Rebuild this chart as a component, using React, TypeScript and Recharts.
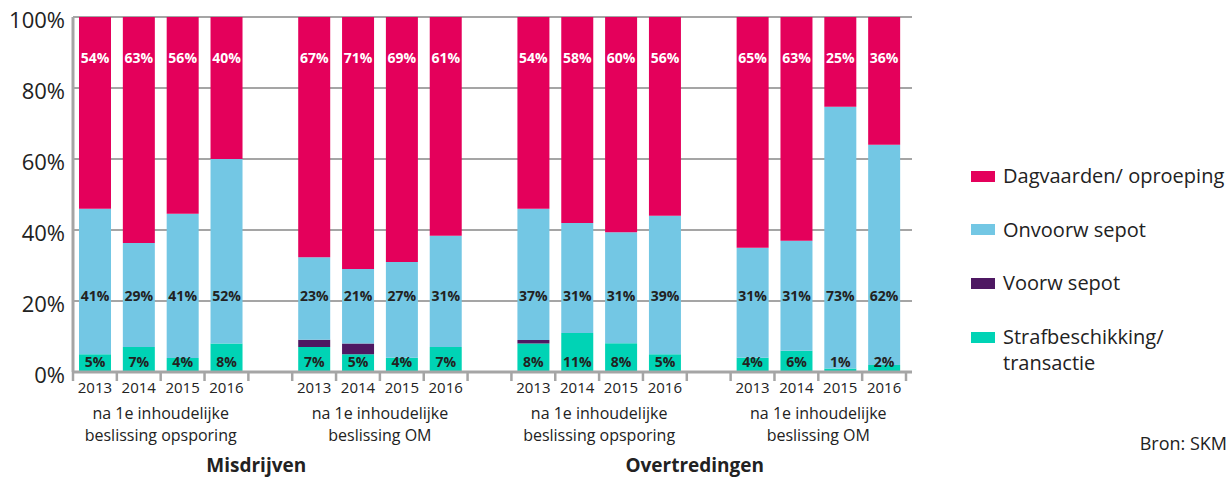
import React from 'react';
import { BarChart, Bar, XAxis, YAxis, CartesianGrid, LabelList } from 'recharts';

// '' = empty slot between groups
const categories = [
  '2013', '2014', '2015', '2016', '',
  '2013', '2014', '2015', '2016', '',
  '2013', '2014', '2015', '2016', '',
  '2013', '2014', '2015', '2016',
];
const dagvaarden = [54, 63, 56, 40, 0, 67, 71, 69, 61, 0, 54, 58, 60, 56, 0, 65, 63, 25, 36];
const onvoorwSepot = [41, 29, 41, 52, 0, 23, 21, 27, 31, 0, 37, 31, 31, 39, 0, 31, 31, 73, 62];
const voorwSepot = [0, 0, 0, 0, 0, 2, 3, 0, 0, 0, 1, 0, 0, 0, 0, 0, 0, 0, 0];
const strafbeschikking = [5, 7, 4, 8, 0, 7, 5, 4, 7, 0, 8, 11, 8, 5, 0, 4, 6, 1, 2];

const subgroupLabels = [
  ['na 1e inhoudelijke', 'beslissing opsporing'],
  ['na 1e inhoudelijke', 'beslissing OM'],
  ['na 1e inhoudelijke', 'beslissing opsporing'],
  ['na 1e inhoudelijke', 'beslissing OM'],
];
const sectionLabels = ['Misdrijven', 'Overtredingen'];
const yTicks = [0, 0.2, 0.4, 0.6, 0.8, 1];

const legendItems = [
  { name: 'Dagvaarden/ oproeping', color: '#E4005B' },
  { name: 'Onvoorw sepot', color: '#73C7E4' },
  { name: 'Voorw sepot', color: '#4E1862' },
  { name: 'Strafbeschikking/\ntransactie', color: '#00D3B5' },
];

const data = categories.map((c, i) => ({
  cat: c,
  straf: strafbeschikking[i],
  voorw: voorwSepot[i],
  onvoorw: onvoorwSepot[i],
  dag: dagvaarden[i],
}));

const FONT = '"Open Sans", sans-serif';
const TEXT = '#222';
const GRID = '#a5a5a5';
const W = 1232;
const H = 478;
const PLOT_TOP = 17;
const PLOT_LEFT = 73;
const PLOT_RIGHT = 912;
const AXIS_H = 106;
const PLOT_H = H - PLOT_TOP - AXIS_H;
const PAD_RIGHT = 6;
const BAND = (PLOT_RIGHT - PLOT_LEFT - PAD_RIGHT) / categories.length;

const yAt = (frac: number) => PLOT_TOP + (1 - frac) * PLOT_H;

const makeLabel = (frac: number, fill: string) => (props: any) => {
  const { x, width, value } = props;
  if (!value) return null;
  return (
    <text
      x={x + width / 2}
      y={yAt(frac)}
      textAnchor="middle"
      dominantBaseline="central"
      fill={fill}
      fontSize={14}
      fontWeight={700}
    >
      {value}%
    </text>
  );
};

const CategoryTick = (props: any) => {
  const { x, y, payload } = props;
  const i: number = props.index ?? payload.index;
  const cat = categories[i];
  const gapsBefore = categories.slice(0, i).filter((c) => c === '').length;
  const left = x - BAND / 2;
  return (
    <g>
      <line x1={left} x2={left} y1={y} y2={y + 9} stroke={GRID} strokeWidth={2.5} />
      {i === categories.length - 1 && (
        <line x1={x + BAND / 2} x2={x + BAND / 2} y1={y} y2={y + 9} stroke={GRID} strokeWidth={2.5} />
      )}
      {cat && (
        <text x={x} y={y + 15} textAnchor="middle" dominantBaseline="central" fill={TEXT} fontSize={15}>
          {cat}
        </text>
      )}
      {cat === '2015' && (
        <text x={left} textAnchor="middle" fill={TEXT} fontSize={16} dominantBaseline="central">
          <tspan x={left} y={y + 41}>{subgroupLabels[gapsBefore][0]}</tspan>
          <tspan x={left} y={y + 63}>{subgroupLabels[gapsBefore][1]}</tspan>
        </text>
      )}
      {cat === '' && gapsBefore % 2 === 0 && (
        <text x={x - 14} y={y + 93} textAnchor="middle" dominantBaseline="central" fill={TEXT} fontSize={19} fontWeight={700}>
          {sectionLabels[gapsBefore / 2]}
        </text>
      )}
    </g>
  );
};

export default function App() {
  return (
    <div
      style={{
        position: 'absolute',
        left: 0,
        top: 0,
        width: W,
        height: H,
        background: '#fff',
        fontFamily: FONT,
        color: TEXT,
        overflow: 'hidden',
      }}
    >
      <BarChart
        width={W}
        height={H}
        data={data}
        stackOffset="expand"
        margin={{ top: PLOT_TOP, right: W - PLOT_RIGHT, bottom: 0, left: 0 }}
      >
        <CartesianGrid vertical={false} stroke={GRID} strokeWidth={2} />
        <XAxis
          dataKey="cat"
          height={AXIS_H}
          interval={0}
          tickLine={false}
          tickSize={0}
          tickMargin={0}
          padding={{ left: 0, right: PAD_RIGHT }}
          axisLine={{ stroke: GRID, strokeWidth: 3 }}
          tick={<CategoryTick />}
        />
        <YAxis
          width={PLOT_LEFT}
          domain={[0, 1]}
          ticks={yTicks}
          tickFormatter={(v: number) => `${Math.round(v * 100)}%`}
          tickLine={false}
          axisLine={{ stroke: GRID, strokeWidth: 3 }}
          tick={{ fill: TEXT, fontSize: 22, dy: 3 }}
        />
        <Bar dataKey="straf" stackId="a" fill="#00D3B5" barSize={32} isAnimationActive={false}>
          <LabelList dataKey="straf" content={makeLabel(0.03, TEXT)} />
        </Bar>
        <Bar dataKey="voorw" stackId="a" fill="#4E1862" barSize={32} isAnimationActive={false} />
        <Bar dataKey="onvoorw" stackId="a" fill="#73C7E4" barSize={32} isAnimationActive={false}>
          <LabelList dataKey="onvoorw" content={makeLabel(0.215, TEXT)} />
        </Bar>
        <Bar dataKey="dag" stackId="a" fill="#E4005B" barSize={32} isAnimationActive={false}>
          <LabelList dataKey="dag" content={makeLabel(0.885, '#fff')} />
        </Bar>
      </BarChart>

      {legendItems.map((item, i) => {
        const centerY = 176 + i * 53.7;
        return (
          <div key={item.name}>
            <div
              style={{
                position: 'absolute',
                left: 971,
                top: centerY - 5.5,
                width: 24,
                height: 11,
                background: item.color,
              }}
            />
            <div
              style={{
                position: 'absolute',
                left: 1003,
                top: centerY - 13,
                fontSize: 20,
                lineHeight: '26px',
                whiteSpace: 'pre',
              }}
            >
              {item.name}
            </div>
          </div>
        );
      })}
      <div
        style={{
          position: 'absolute',
          right: 5,
          top: 443 - 12,
          fontSize: 18,
          lineHeight: '24px',
        }}
      >
        Bron: SKM
      </div>
    </div>
  );
}
